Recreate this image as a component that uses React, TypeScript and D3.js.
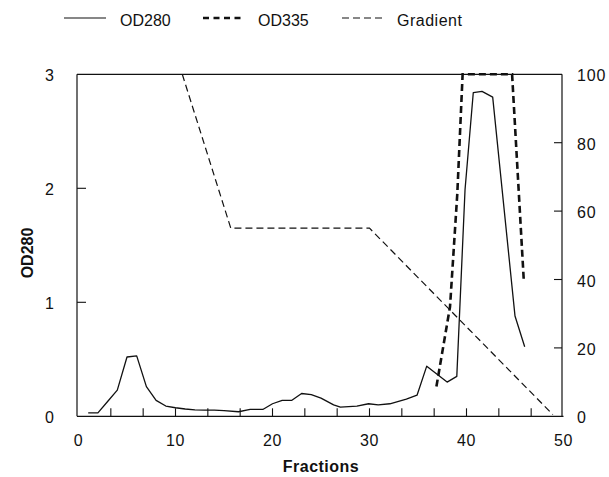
import React from "react";
import * as d3 from "d3";

const od280Frac = [1, 2, 3, 4, 5, 6, 7, 8, 9, 10, 11, 12, 13, 14, 15, 16.5, 17.7, 19, 20, 21, 22, 23, 24, 25, 26.3, 27, 28.7, 29.9, 30.9, 32.1, 33.8, 34.9, 35.9, 38, 39, 39.85, 40.7, 41.6, 42.7, 45, 46];
const od280Vals = [0.03, 0.03, 0.13, 0.23, 0.52, 0.53, 0.26, 0.14, 0.09, 0.075, 0.064, 0.057, 0.055, 0.055, 0.05, 0.04, 0.06, 0.06, 0.11, 0.14, 0.14, 0.2, 0.19, 0.16, 0.1, 0.08, 0.09, 0.11, 0.1, 0.11, 0.15, 0.185, 0.44, 0.3, 0.35, 1.99, 2.84, 2.85, 2.8, 0.88, 0.61];

const od335Frac = [36.9, 38.3, 39.05, 39.6, 44.7, 45.9];
const od335Vals = [8.7, 32, 65, 100, 100, 40];

const gradFrac = [10.7, 15.7, 30, 48.9];
const gradVals = [100, 55, 55, 0.5];

const xTicksLabeled = [0, 10, 20, 30, 40, 50];
const xMinorTicks = [10 / 3, 20 / 3, 10, 40 / 3, 50 / 3, 20, 70 / 3, 80 / 3, 30, 100 / 3, 110 / 3, 40, 130 / 3, 140 / 3];
const yLeftTicks = [0, 1, 2, 3];
const yRightTicks = [0, 20, 40, 60, 80, 100];

const FONT = "'Liberation Sans', Arial, Helvetica, sans-serif";
const INK = "#111";

export default function App() {
  const x = d3.scaleLinear().domain([0, 50]).range([78.5, 563.5]);
  const yL = d3.scaleLinear().domain([0, 3]).range([416.3, 74.3]);
  const yR = d3.scaleLinear().domain([0, 100]).range([416.3, 74.3]);

  const lineL = d3.line<number>().x((d, i) => x(od280Frac[i])).y((d) => yL(d));
  const line335 = d3.line<number>().x((d, i) => x(od335Frac[i])).y((d) => yR(d));
  const lineG = d3.line<number>().x((d, i) => x(gradFrac[i])).y((d) => yR(d));

  const left = 77;
  const right = 562;
  const top = yL(3);
  const bottom = yL(0);

  return (
    <svg width={609} height={477} style={{ position: "absolute", left: 0, top: 0, background: "#fff" }} fontFamily={FONT}>
      {/* legend */}
      <g>
        <line x1={64} x2={106} y1={18} y2={18} stroke={INK} strokeWidth={1.1} />
        <text x={120} y={26} fontSize={16} fill={INK}>OD280</text>
        <line x1={203} x2={241} y1={18} y2={18} stroke={INK} strokeWidth={2.6} strokeDasharray="6,4.5" />
        <text x={258} y={26} fontSize={16} fill={INK}>OD335</text>
        <line x1={342} x2={383} y1={18} y2={18} stroke={INK} strokeWidth={1.1} strokeDasharray="7,4" />
        <text x={397} y={26} fontSize={16} fill={INK} letterSpacing={0.5}>Gradient</text>
      </g>

      {/* frame */}
      <line x1={left} x2={left} y1={top} y2={bottom} stroke={INK} strokeWidth={1.2} />
      <line x1={left} x2={right} y1={top} y2={top} stroke={INK} strokeWidth={1.2} />
      <line x1={right} x2={right} y1={top} y2={bottom} stroke={INK} strokeWidth={1.2} />
      <line x1={left} x2={x(50)} y1={bottom} y2={bottom} stroke={INK} strokeWidth={1.2} />

      {/* x ticks */}
      {xMinorTicks.map((t, i) => (
        <line key={"xm" + i} x1={x(t)} x2={x(t)} y1={bottom} y2={bottom - 8} stroke={INK} strokeWidth={1.1} />
      ))}
      {xTicksLabeled.map((t) => (
        <text key={"xl" + t} x={x(t)} y={445.5} fontSize={16} textAnchor="middle" fill={INK} letterSpacing={0.5}>{t}</text>
      ))}

      {/* left y ticks */}
      {yLeftTicks.map((t) => (
        <g key={"yl" + t}>
          {t > 0 && t < 3 && <line x1={left} x2={left + 9} y1={yL(t)} y2={yL(t)} stroke={INK} strokeWidth={1.1} />}
          <text x={54} y={yL(t) + 7} fontSize={16} textAnchor="end" fill={INK}>{t}</text>
        </g>
      ))}

      {/* right y ticks */}
      {yRightTicks.map((t) => (
        <g key={"yr" + t}>
          {t > 0 && t < 100 && <line x1={right} x2={right - 8} y1={yR(t)} y2={yR(t)} stroke={INK} strokeWidth={1.1} />}
          <text x={577} y={yR(t) + 7} fontSize={16} fill={INK} letterSpacing={0.8}>{t}</text>
        </g>
      ))}

      {/* axis titles */}
      <text x={321} y={472} fontSize={16} fontWeight="bold" textAnchor="middle" fill={INK} letterSpacing={0.5}>Fractions</text>
      <text transform={`translate(33,253) rotate(-90)`} fontSize={16} fontWeight="bold" textAnchor="middle" fill={INK}>OD280</text>

      {/* series */}
      <path d={lineG(gradVals) || ""} fill="none" stroke={INK} strokeWidth={1.2} strokeDasharray="7,4" />
      <path d={lineL(od280Vals) || ""} fill="none" stroke={INK} strokeWidth={1.3} strokeLinejoin="round" />
      <path d={line335(od335Vals) || ""} fill="none" stroke={INK} strokeWidth={2.6} strokeDasharray="7,4" />
    </svg>
  );
}
